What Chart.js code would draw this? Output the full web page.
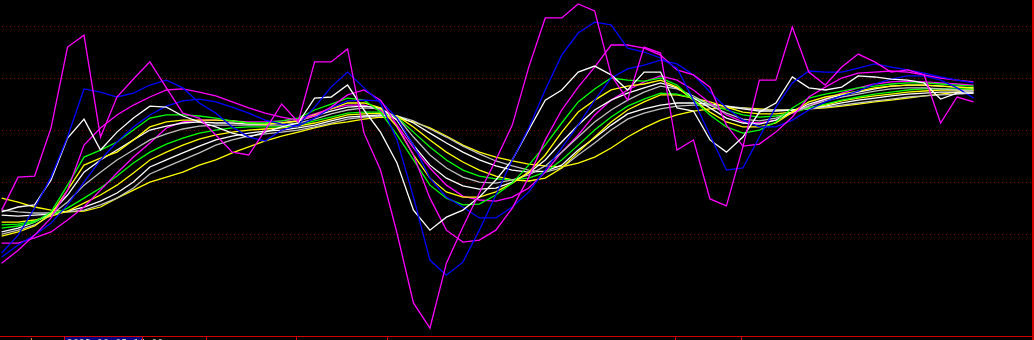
<!DOCTYPE html>
<html>
<head>
<meta charset="utf-8">
<script src="https://cdn.jsdelivr.net/npm/chart.js@4.4.1/dist/chart.umd.min.js"></script>
<style>
  html, body { margin: 0; padding: 0; background: #000; }
  #wrap { width: 1034px; height: 340px; position: relative; }
</style>
</head>
<body>
<div id="wrap"><canvas id="oscChart"></canvas></div>
<script>
// bar index along the bottom
const bars = Array.from({ length: 60 }, (_, i) => i);

// oscillator values, grid every 20
const magentaFast = [-30.8, -18.1, -17.7, 0.8, 31.9, 36.5, -2.7, 12.7, 19.6, 26.2, 16.2, 6.5, 4.6, -1.9, -8.5, -9.6, 0, 10, 3.1, 26.2, 26.2, 31.2, -1.2, -15.4, -39.6, -66.5, -76.2, -51.2, -37.3, -24.2, -11.5, 1.9, 24.2, 43.1, 43.1, 48.5, 45.8, 21.2, 11.5, 31.9, 29.6, -7.7, -3.8, -26.5, -29.2, -6.5, 19.2, 19.2, 39.6, 22.3, 17.3, 24.2, 29.2, 26.2, 22.3, 23.1, 21.2, 2.7, 12.7, 10.8];
const blueFast = [-47.3, -40.4, -30, -18.1, -2.7, 15.8, 14.6, 12.7, 14.2, 17.3, 19.2, 16.2, 10.4, 6.5, 1.2, -2.7, -4.2, 0, 1.9, 8.8, 16.5, 22.3, 16.2, 10.4, -3.8, -25.8, -50, -55.8, -50.8, -38.5, -25, -11.5, 0.8, 15.4, 28.8, 37.3, 41.5, 40.4, 31.5, 30, 27.7, 23.8, 11.5, -1.9, -15.4, -14.6, -2.7, 8.8, 18.1, 22.7, 22.3, 22.3, 23.8, 25.4, 24.2, 23.1, 21.9, 20.4, 19.2, 18.1];
const whiteFast = [-31.5, -29.6, -28.8, -19.2, -3.1, 4.2, -7.7, -0.8, 4.6, 9.2, 8.8, 5.4, 3.1, 1.2, -1.2, -2.7, -0.8, 1.2, 2.7, 12.3, 12.7, 17.3, 7.7, -0.8, -12.7, -30.8, -38.5, -33.5, -30.8, -25.8, -19.2, -11.5, 0, 11.5, 15.4, 22.3, 24.6, 21.2, 15.4, 22.3, 22.3, 8.5, 7.3, -3.8, -8.5, -2.7, 6.9, 10.4, 20.4, 16.2, 15.4, 16.5, 20.8, 20.4, 19.6, 19.2, 18.1, 11.9, 14.2, 14.2];
const magentaMid = [-51.2, -46.2, -40.4, -33.8, -23.1, -5.8, 0.8, 5.8, 9.6, 12.7, 15.4, 15.8, 14.6, 13.1, 10.8, 8.5, 6.5, 5, 3.8, 5.4, 8.8, 13.5, 15.4, 11.5, 1.9, -9.6, -26.2, -38.5, -43.1, -42.3, -38.5, -30, -18.1, -3.8, 7.7, 16.5, 24.2, 32.7, 32.7, 31.5, 28.8, 23.1, 21.2, 16.5, 1.9, -6.2, -5.4, -0.8, 5, 12.7, 16.5, 20, 21.9, 22.3, 22.7, 22.3, 21.2, 20, 19.2, 18.5];
const blueMid = [-48.8, -44.2, -40.4, -35.8, -28.8, -20, -11.5, -4.6, 1.2, 5.8, 9.2, 11.2, 11.9, 10.8, 8.8, 6.5, 3.8, 2.3, 1.5, 4.6, 8.5, 11.2, 11.5, 11.2, 4.6, -5.8, -18.5, -25.8, -29.6, -33.8, -33.8, -29.6, -23.8, -15.4, -6.9, 1.9, 11.5, 20, 23.5, 25, 26.9, 25.4, 21.2, 14.6, 8.5, 3.8, 1.2, 1.2, 3.8, 7.7, 10.8, 13.1, 15, 17.7, 19.6, 20.8, 20.8, 19.2, 16.2, 12.3];
const greenFast = [-37.7, -36.9, -35.4, -31.5, -21.2, -10.4, -7.7, -4.6, 0, 4.6, 5.8, 5.8, 5.4, 4.6, 3.5, 2.7, 2.7, 3.5, 4.6, 7.7, 10, 12.3, 11.5, 6.9, -1.9, -11.5, -21.2, -26.2, -28.8, -28.5, -25, -20.4, -13.5, -5.8, 2.7, 10.8, 15.8, 20, 19.2, 18.8, 20, 17.3, 11.5, 5.8, 1.2, -1.2, 0, 3.1, 8.5, 12.3, 13.8, 15, 16.2, 16.9, 17.7, 18.1, 18.1, 17.7, 17.3, 16.9];
const yellowFast = [-40.8, -39.2, -36.9, -32.3, -23.1, -13.5, -10.8, -8.5, -3.8, 1.2, 3.1, 3.8, 3.8, 3.8, 3.5, 2.7, 2.3, 2.7, 3.5, 5.8, 8.1, 10.4, 10.4, 8.5, 1.2, -9.6, -18.5, -23.8, -25.8, -25.8, -23.8, -20.4, -16.2, -9.6, -0.8, 6.9, 11.5, 15.4, 16.9, 17.7, 19.2, 16.5, 11.5, 6.9, 3.1, 1.2, 1.2, 2.7, 6.9, 10.8, 12.7, 13.8, 15, 16.2, 16.9, 17.3, 17.3, 16.9, 16.5, 16.2];
const whiteMid = [-39.2, -37.7, -35.4, -31.9, -25, -16.2, -11.5, -7.7, -3.8, 0, 1.5, 2.7, 3.1, 2.7, 2.7, 2.3, 2.3, 2.7, 3.5, 5.4, 7.3, 8.8, 9.2, 8.5, 3.8, -5.8, -13.5, -18.5, -21.5, -22.7, -22.3, -20, -16.5, -11.5, -4.6, 1.9, 7.7, 11.5, 14.2, 16.2, 18.1, 16.2, 12.3, 8.5, 4.6, 2.7, 2.3, 3.8, 6.9, 10, 11.9, 13.5, 14.6, 15.8, 16.9, 17.3, 17.3, 16.9, 16.5, 16.2];
const grayMid = [-40, -38.5, -36.5, -32.7, -27.7, -21.2, -16.2, -11.5, -7.7, -3.8, -1.5, 0.4, 1.5, 1.9, 1.9, 1.9, 1.9, 1.9, 2.7, 4.2, 6.2, 7.7, 8.5, 8.1, 5, -2.7, -9.6, -14.6, -18.1, -20, -20.4, -19.2, -17.3, -13.8, -8.5, -2.7, 3.1, 7.7, 11.5, 14.6, 16.9, 15.8, 13.1, 9.6, 6.5, 4.2, 3.5, 4.6, 6.9, 9.2, 11.2, 12.7, 13.8, 15, 15.8, 16.2, 16.2, 15.8, 15.4, 15];
const magentaSlow = [-43.5, -43.5, -41.5, -39.2, -34.6, -29.6, -23.1, -16.5, -10.4, -5, 0.8, 3.1, 3.8, 3.8, 3.5, 3.1, 3.1, 3.5, 4.2, 6.2, 8.1, 9.6, 9.6, 7.7, 1.9, -6.9, -14.6, -21.2, -25.4, -26.9, -27.3, -25.8, -22.3, -16.2, -8.5, -1.9, 5.8, 11.5, 15.4, 18.5, 20.8, 19.2, 15.4, 10.4, 5.8, 3.1, 2.7, 3.8, 6.5, 9.2, 11.9, 14.2, 16.2, 17.7, 18.5, 18.8, 18.5, 18.1, 17.7, 17.3];
const greenSlow = [-36.5, -36.2, -35, -32.7, -30, -26.2, -22.3, -17.7, -12.7, -8.5, -5.4, -3.1, -1.2, 0, 0.8, 1.2, 1.2, 1.2, 1.9, 3.5, 5, 6.5, 6.9, 6.9, 5, -0.8, -6.5, -11.5, -15.4, -17.7, -18.8, -19.2, -18.5, -16.2, -11.5, -5.8, 0, 5, 9.2, 11.9, 14.2, 13.8, 12.3, 10, 7.7, 5.8, 5, 5.4, 6.5, 8.5, 10, 11.5, 12.7, 13.8, 14.6, 15.4, 15.8, 15.8, 15.8, 15.8];
const yellowMid = [-35.4, -35.4, -34.6, -33.1, -31.2, -28.1, -25, -21.2, -16.5, -11.5, -8.5, -5.8, -3.5, -1.9, -0.8, 0, 0.4, 0.8, 1.5, 2.7, 4.2, 5.8, 6.2, 6.5, 5.4, 1.2, -3.8, -8.5, -12.3, -15.4, -17.7, -19.2, -19.6, -18.5, -14.6, -8.5, -2.7, 3.1, 7.7, 10.8, 13.5, 13.5, 12.3, 10.8, 8.8, 6.9, 6.2, 6.2, 6.9, 8.5, 9.6, 11.2, 12.3, 13.1, 13.8, 14.6, 15, 15.4, 15.4, 15.4];
const whiteSlow = [-32.7, -33.1, -32.7, -32.3, -31.2, -29.6, -27.3, -24.2, -20, -14.2, -11.5, -8.8, -6.2, -3.8, -2.3, -1.2, -0.4, 0, 0.8, 1.9, 3.5, 5, 5.4, 5.8, 5.4, 2.7, -1.2, -5, -8.5, -11.5, -13.8, -15.4, -16.2, -15.8, -13.5, -7.7, -3.1, 1.9, 6.2, 8.1, 9.6, 10.4, 10.4, 10, 9.2, 8.1, 7.3, 7.3, 7.7, 8.5, 9.2, 10.4, 11.5, 12.3, 13.1, 13.8, 14.2, 14.6, 14.6, 14.6];
const graySlow = [-30.8, -31.5, -31.9, -31.9, -31.5, -30.8, -28.8, -26.2, -22.3, -16.9, -14.2, -11.5, -8.8, -5.8, -3.8, -2.3, -1.5, -0.8, 0, 1.2, 2.7, 4.2, 5, 5.4, 5.4, 3.5, 0.4, -2.7, -6.2, -9.2, -11.9, -13.8, -15.4, -16.2, -14.6, -9.6, -5, 0, 4.2, 6.5, 8.1, 9.2, 9.6, 9.6, 9.2, 8.5, 7.7, 7.7, 7.7, 8.1, 8.8, 9.6, 10.4, 11.2, 11.9, 12.7, 13.1, 13.5, 13.8, 14.2];
const yellowSlow = [-26.2, -27.7, -29.6, -30.8, -31.5, -31.2, -29.6, -26.2, -23.1, -20, -18.1, -16.2, -13.5, -11.5, -8.8, -6.5, -4.2, -2.3, -0.8, 0.8, 2.3, 3.1, 4.2, 5, 4.6, 3.1, 0.8, -2.3, -5.8, -8.5, -10.4, -11.9, -13.1, -13.8, -14.2, -12.7, -10.4, -6.9, -2.7, 0.8, 3.8, 5.8, 7.3, 8.1, 8.5, 8.5, 8.1, 7.7, 7.7, 8.1, 8.5, 9.2, 10, 10.8, 11.5, 12.3, 13.1, 13.8, 14.6, 15.4];

// dotted level lines and date separators on the time axis
const gridLevels = [40, 20, 0, -20, -40];
const separators = [3.79, 8.52, 12.41, 17.87, 23.4, 40.88, 44.89];
const cursorBar = 1.78;
const dateBox = { from: 3.79, to: 8.52, text: "2023.10.05 16:00" };

function line(data, color) {
  return {
    data: data,
    borderColor: color,
    borderWidth: 1.3,
    pointRadius: 0,
    tension: 0,
    fill: false,
  };
}

// grid dots, red frame and bottom marks
const terminalFrame = {
  id: "terminalFrame",
  beforeDatasetsDraw(chart) {
    const { ctx, chartArea, scales } = chart;
    ctx.save();
    ctx.fillStyle = "#7a0000";
    gridLevels.forEach((v) => {
      const y = Math.round(scales.y.getPixelForValue(v));
      for (let x = chartArea.left + 2; x < chartArea.right; x += 4) {
        ctx.fillRect(x, y, 1, 1);
      }
    });
    ctx.restore();
  },
  afterDraw(chart) {
    const { ctx, chartArea, scales, width, height } = chart;
    const bottom = Math.round(chartArea.bottom);
    const right = Math.round(chartArea.right);
    ctx.save();
    ctx.fillStyle = "#000";
    ctx.fillRect(0, bottom, width, height - bottom);
    ctx.fillStyle = "#d00000";
    ctx.fillRect(0, bottom, width, 1);
    ctx.fillRect(right, 0, 2, height);

    const x0 = Math.round(scales.x.getPixelForValue(dateBox.from));
    const x1 = Math.round(scales.x.getPixelForValue(dateBox.to));
    ctx.fillStyle = "#000080";
    ctx.fillRect(x0, bottom + 1, x1 - x0, height - bottom);
    ctx.fillStyle = "#c8c8c8";
    ctx.font = "10px 'DejaVu Sans Mono'";
    ctx.textBaseline = "top";
    ctx.fillText(dateBox.text, x0 + 3, bottom + 3);

    ctx.fillStyle = "#d00000";
    separators.forEach((s) => {
      const x = Math.round(scales.x.getPixelForValue(s));
      ctx.fillRect(x, bottom, 1, height - bottom);
    });
    ctx.fillStyle = "#e08020";
    ctx.fillRect(Math.round(scales.x.getPixelForValue(cursorBar)), bottom + 2, 1, height - bottom);
    ctx.restore();
  },
};

const ctx = document.getElementById("oscChart").getContext("2d");
new Chart(ctx, {
  type: "line",
  data: {
    labels: bars,
    datasets: [
      line(magentaFast, "#ff00ff"),
      line(blueFast, "#0000ff"),
      line(whiteFast, "#ffffff"),
      line(magentaMid, "#ff00ff"),
      line(blueMid, "#0000ff"),
      line(greenFast, "#00ff00"),
      line(yellowFast, "#ffff00"),
      line(whiteMid, "#ffffff"),
      line(grayMid, "#c0c0c0"),
      line(magentaSlow, "#ff00ff"),
      line(greenSlow, "#00ff00"),
      line(yellowMid, "#ffff00"),
      line(whiteSlow, "#ffffff"),
      line(graySlow, "#c0c0c0"),
      line(yellowSlow, "#ffff00"),
    ],
  },
  options: {
    responsive: true,
    maintainAspectRatio: false,
    animation: false,
    devicePixelRatio: 1,
    layout: { padding: { left: 0, top: 0, right: 2, bottom: 4 } },
    plugins: { legend: { display: false }, tooltip: { enabled: false } },
    scales: {
      x: { type: "linear", display: false, min: -0.1, max: 62.55 },
      y: { display: false, min: -79.2, max: 50 },
    },
  },
  plugins: [terminalFrame],
});
</script>
</body>
</html>
